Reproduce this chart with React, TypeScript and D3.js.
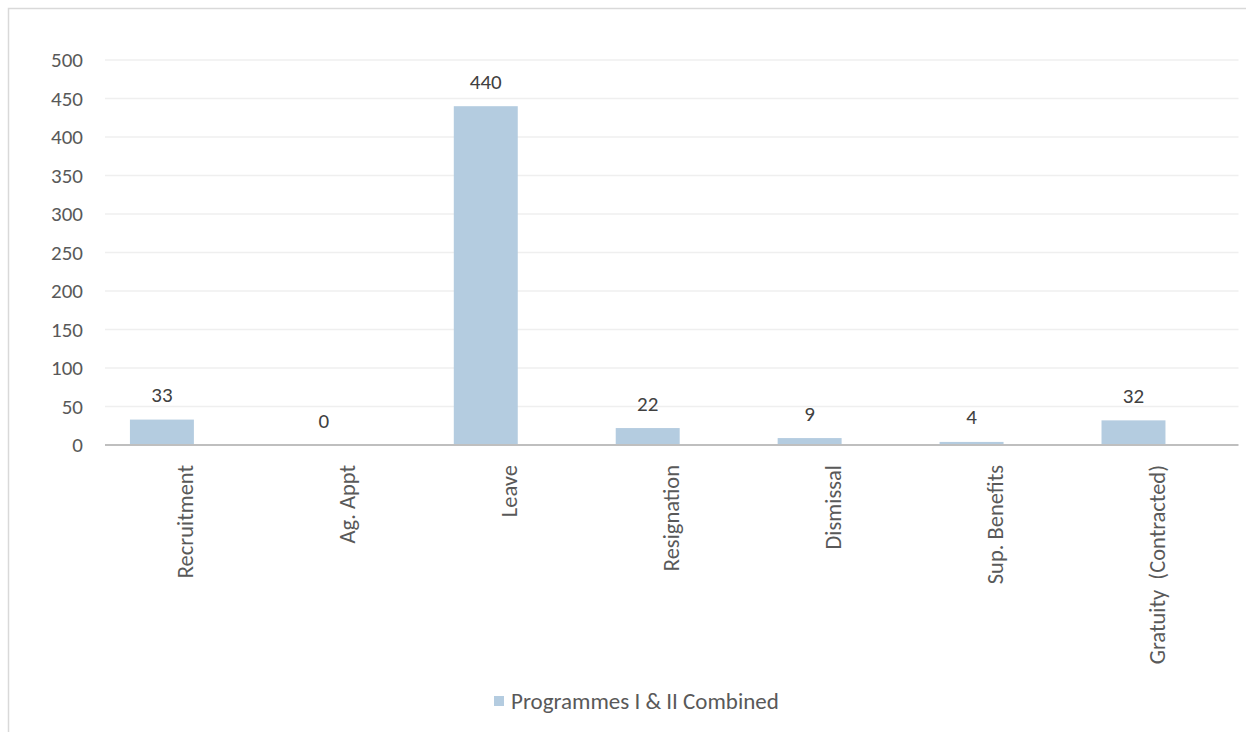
import React from "react";
import * as d3 from "d3";

const categories = ["Recruitment", "Ag. Appt", "Leave", "Resignation", "Dismissal", "Sup. Benefits", "Gratuity  (Contracted)"];
const values = [33, 0, 440, 22, 9, 4, 32];
const yTicks = [0, 50, 100, 150, 200, 250, 300, 350, 400, 450, 500];
const seriesName = "Programmes I & II Combined";

const W = 1246;
const H = 732;
const FONT = "Carlito, Calibri, Lato, 'Open Sans', sans-serif";
const TEXT = "#595959";

export default function App() {
  const left = 105, right = 1238.5, top = 60, bottom = 445;
  const x = d3.scaleBand<string>().domain(categories).range([left, right]).padding(0);
  const y = d3.scaleLinear().domain([0, 500]).range([bottom, top]);
  const bw = x.bandwidth();
  const barOff = bw * 0.154;
  const barW = bw * 0.395;

  return (
    <svg width={W} height={H} style={{ position: "absolute", left: 0, top: 0, fontFamily: FONT }}>
      <rect x={0} y={0} width={W} height={H} fill="#fff" />
      <rect x={8.5} y={8.5} width={W + 10} height={H + 10} fill="none" stroke="#d9d9d9" strokeWidth={1.5} />
      {yTicks.map((t) => (
        <g key={t}>
          {t !== 0 && <line x1={left} x2={right} y1={y(t)} y2={y(t)} stroke="#efefef" strokeWidth={1.3} />}
          <text x={83} y={y(t)} textAnchor="end" dominantBaseline="central" fontSize={21} fill={TEXT}>{t}</text>
        </g>
      ))}
      {categories.map((c, i) => {
        const bx = (x(c) as number) + barOff;
        return (
          <g key={c}>
            <rect x={bx} y={y(values[i])} width={barW} height={bottom - y(values[i])} fill="#b4cce0" />
            <text x={bx + barW / 2} y={y(values[i]) - 17.5} textAnchor="middle" fontSize={21} fill="#404040">{values[i]}</text>
            <text
              transform={`translate(${(x(c) as number) + bw / 2},${bottom + 20}) rotate(-90)`}
              textAnchor="end"
              dominantBaseline="central"
              fontSize={22.5}
              fill={TEXT}
              style={{ whiteSpace: "pre" }}
            >{c}</text>
          </g>
        );
      })}
      <line x1={left} x2={right} y1={bottom} y2={bottom} stroke="#bfbfbf" strokeWidth={2.2} />
      <rect x={494} y={696} width={10} height={10} fill="#b4cce0" />
      <text x={511} y={701} dominantBaseline="central" fontSize={23} fill={TEXT}>{seriesName}</text>
    </svg>
  );
}
